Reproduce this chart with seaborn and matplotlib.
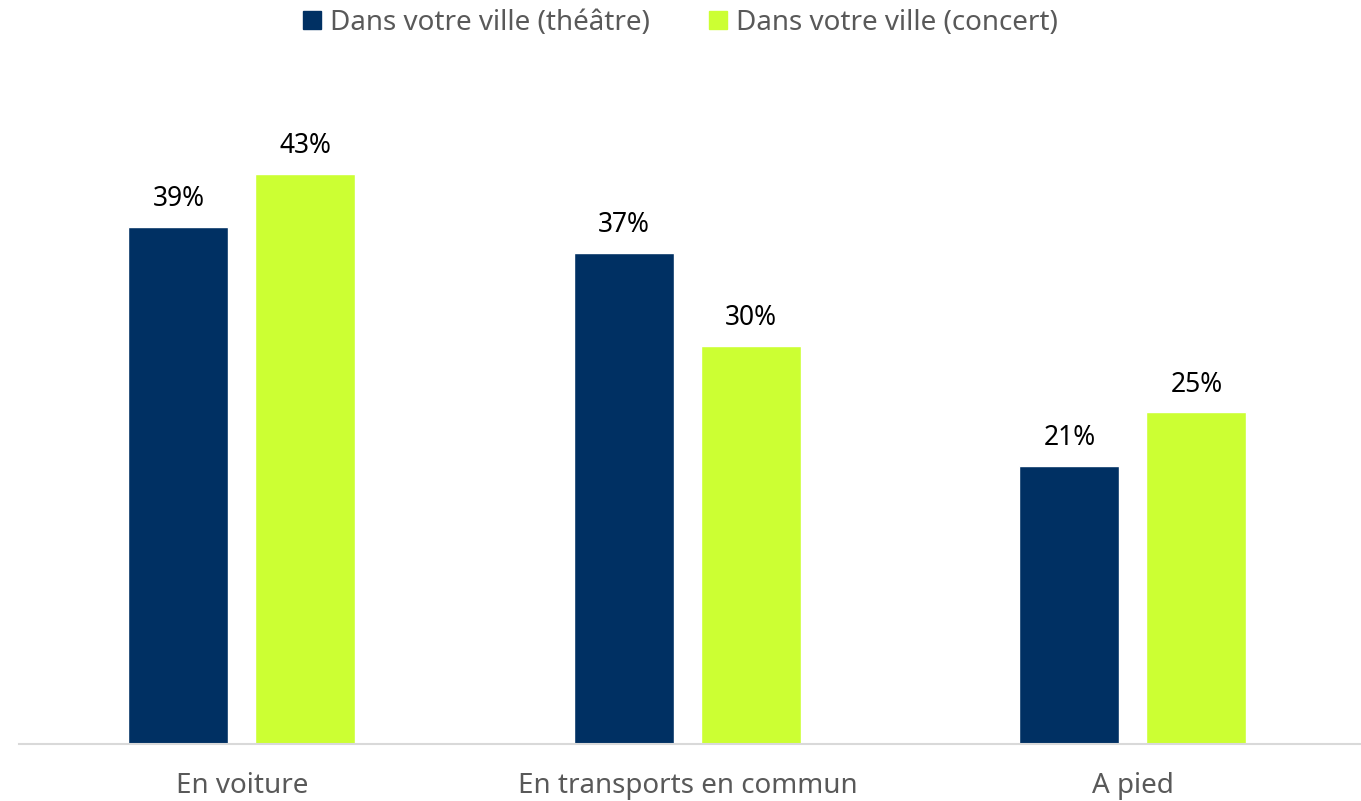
import pandas as pd
import matplotlib
matplotlib.use("Agg")
import matplotlib.pyplot as plt
import seaborn as sns

# data
categories = ["En voiture", "En transports en commun", "A pied"]
series_names = ["Dans votre ville (théâtre)", "Dans votre ville (concert)"]
theatre = [39, 37, 21]
concert = [43, 30, 25]
colors = ["#003063", "#CCFF33"]

df = pd.DataFrame({
    "cat": categories * 2,
    "serie": [series_names[0]] * 3 + [series_names[1]] * 3,
    "val": theatre + concert,
})

sns.set_style("white")
plt.rcParams["font.family"] = ["Noto Sans", "DejaVu Sans"]

fig = plt.figure(figsize=(13.61, 8.01), dpi=100)
ax = fig.add_axes([0.014, 0.0712, 0.986, 0.8277])

sns.barplot(data=df, x="cat", y="val", hue="serie", palette=colors,
            width=0.57, gap=0.213, ax=ax, legend=False, saturation=1)

ax.set_ylim(0, 50)
ax.set_xlim(-0.5, 2.512)
ax.set_xlabel("")
ax.set_ylabel("")
ax.set_yticks([])
for s in ["top", "right", "left"]:
    ax.spines[s].set_visible(False)
ax.spines["bottom"].set_color("#D9D9D9")
ax.spines["bottom"].set_linewidth(1.5)
ax.tick_params(axis="x", length=0, labelsize=20, labelcolor="#595959", pad=20)

# value labels
for cont in ax.containers:
    ax.bar_label(cont, labels=[f"{int(v)}%" for v in cont.datavalues],
                 padding=10, fontsize=19, color="black")

# legend
handles = [plt.Rectangle((0, 0), 1, 1, color=c) for c in colors]
leg = fig.legend(handles, series_names, loc="upper center", bbox_to_anchor=(0.5, 1.02),
                 ncol=2, frameon=False, fontsize=20, handlelength=0.65, handleheight=0.65,
                 handletextpad=0.35, columnspacing=2.1)
for t in leg.get_texts():
    t.set_color("#595959")

plt.savefig("out.png", dpi=100)
